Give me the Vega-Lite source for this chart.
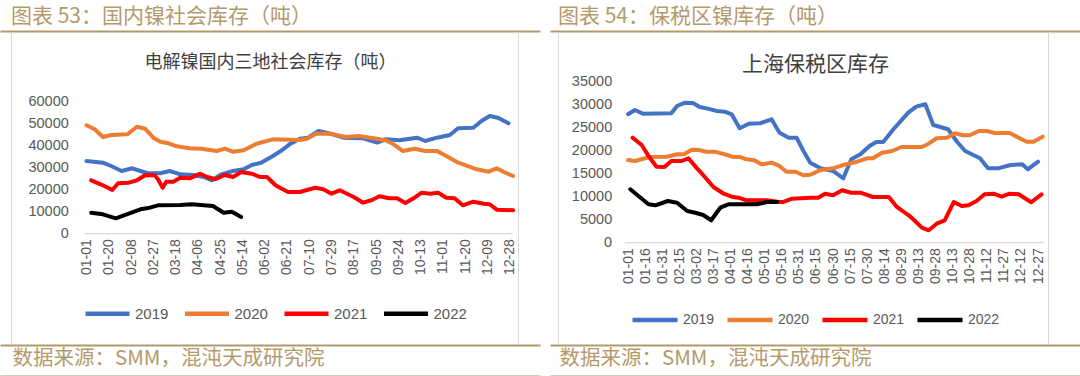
{
  "$schema": "https://vega.github.io/schema/vega-lite/v6.json",
  "padding": {"top": 6, "left": 0, "right": 0, "bottom": 0},
  "background": "white",
  "spacing": 10,
  "resolve": {"scale": {"color": "independent"}, "legend": {"color": "independent"}},
  "config": {"view": {"stroke": null}, "axis": {"grid": false}, "font": "Liberation Sans"},
  "datasets": {
    "left": [
      {"year":"2019","day":0,"value":32930},{"year":"2019","day":14,"value":32160},{"year":"2019","day":21,"value":30660},{"year":"2019","day":30,"value":28400},{"year":"2019","day":39,"value":29620},{"year":"2019","day":46,"value":28400},{"year":"2019","day":53,"value":27350},{"year":"2019","day":63,"value":27350},{"year":"2019","day":71,"value":28400},{"year":"2019","day":80,"value":26900},{"year":"2019","day":91,"value":26590},{"year":"2019","day":100,"value":25680},{"year":"2019","day":107,"value":24180},{"year":"2019","day":115,"value":26900},{"year":"2019","day":125,"value":28400},{"year":"2019","day":134,"value":29170},{"year":"2019","day":141,"value":31110},{"year":"2019","day":149,"value":32160},{"year":"2019","day":159,"value":35190},{"year":"2019","day":167,"value":37900},{"year":"2019","day":174,"value":40760},{"year":"2019","day":182,"value":43000},{"year":"2019","day":189,"value":43480},{"year":"2019","day":198,"value":46510},{"year":"2019","day":208,"value":45290},{"year":"2019","day":219,"value":43480},{"year":"2019","day":236,"value":43210},{"year":"2019","day":248,"value":41210},{"year":"2019","day":255,"value":42750},{"year":"2019","day":267,"value":42300},{"year":"2019","day":282,"value":43480},{"year":"2019","day":289,"value":41980},{"year":"2019","day":299,"value":43480},{"year":"2019","day":310,"value":44700},{"year":"2019","day":317,"value":47730},{"year":"2019","day":330,"value":48010},{"year":"2019","day":337,"value":51040},{"year":"2019","day":344,"value":53310},{"year":"2019","day":351,"value":52540},{"year":"2019","day":360,"value":50000},
      {"year":"2020","day":0,"value":49090},{"year":"2020","day":7,"value":47280},{"year":"2020","day":14,"value":43800},{"year":"2020","day":21,"value":44700},{"year":"2020","day":35,"value":45020},{"year":"2020","day":43,"value":48460},{"year":"2020","day":50,"value":47550},{"year":"2020","day":57,"value":43480},{"year":"2020","day":63,"value":41670},{"year":"2020","day":70,"value":40940},{"year":"2020","day":77,"value":39580},{"year":"2020","day":88,"value":38680},{"year":"2020","day":98,"value":38500},{"year":"2020","day":111,"value":37450},{"year":"2020","day":118,"value":38500},{"year":"2020","day":125,"value":37140},{"year":"2020","day":134,"value":37770},{"year":"2020","day":145,"value":40760},{"year":"2020","day":159,"value":42750},{"year":"2020","day":182,"value":42440},{"year":"2020","day":188,"value":43030},{"year":"2020","day":196,"value":45290},{"year":"2020","day":208,"value":45290},{"year":"2020","day":221,"value":43800},{"year":"2020","day":232,"value":44250},{"year":"2020","day":245,"value":43210},{"year":"2020","day":255,"value":42300},{"year":"2020","day":262,"value":40490},{"year":"2020","day":270,"value":37450},{"year":"2020","day":280,"value":38500},{"year":"2020","day":289,"value":37450},{"year":"2020","day":299,"value":37450},{"year":"2020","day":307,"value":35190},{"year":"2020","day":316,"value":32470},{"year":"2020","day":323,"value":31110},{"year":"2020","day":333,"value":29170},{"year":"2020","day":343,"value":28080},{"year":"2020","day":350,"value":29620},{"year":"2020","day":356,"value":27940},{"year":"2020","day":364,"value":26130},
      {"year":"2021","day":4,"value":24180},{"year":"2021","day":14,"value":21920},{"year":"2021","day":22,"value":19790},{"year":"2021","day":27,"value":22830},{"year":"2021","day":36,"value":23100},{"year":"2021","day":43,"value":24180},{"year":"2021","day":50,"value":26450},{"year":"2021","day":58,"value":26450},{"year":"2021","day":61,"value":24640},{"year":"2021","day":65,"value":20830},{"year":"2021","day":68,"value":23550},{"year":"2021","day":74,"value":23550},{"year":"2021","day":80,"value":25360},{"year":"2021","day":88,"value":25090},{"year":"2021","day":97,"value":27170},{"year":"2021","day":103,"value":25680},{"year":"2021","day":110,"value":24640},{"year":"2021","day":118,"value":26590},{"year":"2021","day":125,"value":25680},{"year":"2021","day":132,"value":27940},{"year":"2021","day":141,"value":27170},{"year":"2021","day":148,"value":25680},{"year":"2021","day":154,"value":25680},{"year":"2021","day":161,"value":22060},{"year":"2021","day":165,"value":20830},{"year":"2021","day":172,"value":18890},{"year":"2021","day":182,"value":18900},{"year":"2021","day":195,"value":20830},{"year":"2021","day":202,"value":20110},{"year":"2021","day":209,"value":18120},{"year":"2021","day":216,"value":19660},{"year":"2021","day":228,"value":16620},{"year":"2021","day":236,"value":14040},{"year":"2021","day":243,"value":15130},{"year":"2021","day":250,"value":16940},{"year":"2021","day":258,"value":16030},{"year":"2021","day":265,"value":16030},{"year":"2021","day":272,"value":13900},{"year":"2021","day":279,"value":16030},{"year":"2021","day":286,"value":18570},{"year":"2021","day":293,"value":18120},{"year":"2021","day":300,"value":18570},{"year":"2021","day":307,"value":16300},{"year":"2021","day":314,"value":16030},{"year":"2021","day":321,"value":12860},{"year":"2021","day":330,"value":14490},{"year":"2021","day":339,"value":13590},{"year":"2021","day":344,"value":13320},{"year":"2021","day":350,"value":10870},{"year":"2021","day":364,"value":10600},
      {"year":"2022","day":4,"value":9510},{"year":"2022","day":14,"value":8790},{"year":"2022","day":25,"value":6970},{"year":"2022","day":36,"value":9060},{"year":"2022","day":46,"value":11050},{"year":"2022","day":54,"value":11780},{"year":"2022","day":61,"value":12860},{"year":"2022","day":80,"value":13000},{"year":"2022","day":90,"value":13320},{"year":"2022","day":100,"value":12860},{"year":"2022","day":108,"value":12550},{"year":"2022","day":111,"value":11500},{"year":"2022","day":117,"value":9510},{"year":"2022","day":124,"value":9960},{"year":"2022","day":132,"value":7560}
    ],
    "right": [
      {"year":"2019","day":0,"value":27970},{"year":"2019","day":6,"value":28900},{"year":"2019","day":13,"value":28100},{"year":"2019","day":38,"value":28180},{"year":"2019","day":43,"value":29770},{"year":"2019","day":50,"value":30490},{"year":"2019","day":57,"value":30430},{"year":"2019","day":63,"value":29560},{"year":"2019","day":70,"value":29190},{"year":"2019","day":78,"value":28680},{"year":"2019","day":85,"value":28530},{"year":"2019","day":91,"value":27970},{"year":"2019","day":98,"value":24920},{"year":"2019","day":106,"value":25920},{"year":"2019","day":116,"value":26010},{"year":"2019","day":126,"value":26880},{"year":"2019","day":133,"value":23960},{"year":"2019","day":141,"value":22870},{"year":"2019","day":148,"value":22870},{"year":"2019","day":154,"value":19970},{"year":"2019","day":160,"value":17420},{"year":"2019","day":169,"value":16200},{"year":"2019","day":180,"value":15620},{"year":"2019","day":189,"value":14030},{"year":"2019","day":196,"value":18160},{"year":"2019","day":204,"value":19250},{"year":"2019","day":212,"value":21060},{"year":"2019","day":218,"value":21930},{"year":"2019","day":224,"value":21930},{"year":"2019","day":233,"value":24700},{"year":"2019","day":246,"value":28310},{"year":"2019","day":253,"value":29620},{"year":"2019","day":261,"value":30140},{"year":"2019","day":268,"value":25640},{"year":"2019","day":281,"value":24700},{"year":"2019","day":289,"value":21930},{"year":"2019","day":296,"value":19970},{"year":"2019","day":309,"value":18380},{"year":"2019","day":316,"value":16200},{"year":"2019","day":325,"value":16200},{"year":"2019","day":335,"value":16860},{"year":"2019","day":346,"value":17080},{"year":"2019","day":351,"value":15990},{"year":"2019","day":360,"value":17640},
      {"year":"2020","day":0,"value":18010},{"year":"2020","day":6,"value":17790},{"year":"2020","day":19,"value":18670},{"year":"2020","day":34,"value":18730},{"year":"2020","day":43,"value":19250},{"year":"2020","day":49,"value":19250},{"year":"2020","day":56,"value":20260},{"year":"2020","day":62,"value":20190},{"year":"2020","day":69,"value":19820},{"year":"2020","day":76,"value":19820},{"year":"2020","day":87,"value":19100},{"year":"2020","day":92,"value":18670},{"year":"2020","day":98,"value":18670},{"year":"2020","day":104,"value":18160},{"year":"2020","day":111,"value":17950},{"year":"2020","day":117,"value":17080},{"year":"2020","day":126,"value":17420},{"year":"2020","day":133,"value":16710},{"year":"2020","day":139,"value":15460},{"year":"2020","day":147,"value":15460},{"year":"2020","day":154,"value":14680},{"year":"2020","day":160,"value":14800},{"year":"2020","day":169,"value":15830},{"year":"2020","day":180,"value":16200},{"year":"2020","day":189,"value":16920},{"year":"2020","day":201,"value":17640},{"year":"2020","day":210,"value":18380},{"year":"2020","day":215,"value":18380},{"year":"2020","day":223,"value":19600},{"year":"2020","day":232,"value":19970},{"year":"2020","day":240,"value":20840},{"year":"2020","day":258,"value":20840},{"year":"2020","day":264,"value":21560},{"year":"2020","day":271,"value":22740},{"year":"2020","day":280,"value":22870},{"year":"2020","day":287,"value":23830},{"year":"2020","day":294,"value":23390},{"year":"2020","day":300,"value":23390},{"year":"2020","day":308,"value":24330},{"year":"2020","day":315,"value":24330},{"year":"2020","day":322,"value":23890},{"year":"2020","day":335,"value":23890},{"year":"2020","day":343,"value":22870},{"year":"2020","day":350,"value":22000},{"year":"2020","day":356,"value":22000},{"year":"2020","day":364,"value":23090},
      {"year":"2021","day":4,"value":22870},{"year":"2021","day":12,"value":21280},{"year":"2021","day":18,"value":18880},{"year":"2021","day":25,"value":16550},{"year":"2021","day":32,"value":16490},{"year":"2021","day":38,"value":17790},{"year":"2021","day":47,"value":17790},{"year":"2021","day":53,"value":18380},{"year":"2021","day":60,"value":16340},{"year":"2021","day":68,"value":14160},{"year":"2021","day":75,"value":12130},{"year":"2021","day":84,"value":10670},{"year":"2021","day":91,"value":10020},{"year":"2021","day":97,"value":9800},{"year":"2021","day":104,"value":9230},{"year":"2021","day":122,"value":9230},{"year":"2021","day":131,"value":8930},{"year":"2021","day":136,"value":8860},{"year":"2021","day":144,"value":9580},{"year":"2021","day":160,"value":9800},{"year":"2021","day":167,"value":9800},{"year":"2021","day":173,"value":10670},{"year":"2021","day":180,"value":10320},{"year":"2021","day":188,"value":11410},{"year":"2021","day":196,"value":10890},{"year":"2021","day":204,"value":10890},{"year":"2021","day":215,"value":9950},{"year":"2021","day":229,"value":9950},{"year":"2021","day":236,"value":7780},{"year":"2021","day":248,"value":5660},{"year":"2021","day":258,"value":3270},{"year":"2021","day":264,"value":2700},{"year":"2021","day":271,"value":4140},{"year":"2021","day":278,"value":4880},{"year":"2021","day":286,"value":8860},{"year":"2021","day":293,"value":7990},{"year":"2021","day":299,"value":8150},{"year":"2021","day":306,"value":9080},{"year":"2021","day":313,"value":10540},{"year":"2021","day":321,"value":10670},{"year":"2021","day":328,"value":10020},{"year":"2021","day":335,"value":10670},{"year":"2021","day":343,"value":10540},{"year":"2021","day":354,"value":8800},{"year":"2021","day":363,"value":10540},
      {"year":"2022","day":2,"value":11630},{"year":"2022","day":11,"value":9800},{"year":"2022","day":18,"value":8360},{"year":"2022","day":24,"value":8150},{"year":"2022","day":35,"value":9080},{"year":"2022","day":43,"value":8710},{"year":"2022","day":52,"value":6900},{"year":"2022","day":59,"value":6530},{"year":"2022","day":66,"value":6030},{"year":"2022","day":73,"value":4880},{"year":"2022","day":81,"value":7620},{"year":"2022","day":88,"value":8360},{"year":"2022","day":113,"value":8360},{"year":"2022","day":122,"value":8860},{"year":"2022","day":131,"value":8860}
    ]
  },
  "hconcat": [
    {
      "width": 540,
      "height": 312,
      "title": {"text": "图表 53：国内镍社会库存（吨）", "anchor": "start", "frame": "group", "dx": 11, "offset": 4, "fontSize": 21, "font": "Noto Sans CJK SC", "fontWeight": "normal", "color": "#B49A6B"},
      "resolve": {"axis": {"x": "independent", "y": "independent"}},
      "layer": [
        {
          "data": {"name": "left"},
          "mark": {"type": "line", "strokeWidth": 4, "strokeCap": "round", "strokeJoin": "round"},
          "encoding": {
            "x": {"field": "day", "type": "quantitative",
              "scale": {"domain": [-73.8, 386.9], "nice": false, "zero": false},
              "axis": {"orient": "bottom", "offset": -110.3, "values": [0,19,38,57,76,95,114,133,152,171,190,209,228,247,266,285,304,323,342,361],
                "labelExpr": "timeFormat(datetime(2021, 0, 1 + datum.value), '%m-%d')",
                "labelAngle": -90, "labelFontSize": 14, "labelColor": "#595959", "labelFont": "Liberation Sans", "labelPadding": 5,
                "labelOverlap": false, "labelFlush": false, "labelBound": false,
                "domain": false, "ticks": false, "grid": false, "title": null}},
            "y": {"field": "value", "type": "quantitative",
              "scale": {"domain": [-49955, 91349], "nice": false, "zero": false},
              "axis": {"orient": "left", "offset": -72.3, "values": [0,10000,20000,30000,40000,50000,60000], "format": "d",
                "labelFontSize": 14.5, "labelColor": "#595959", "labelFont": "Liberation Sans", "labelPadding": 4,
                "labelOverlap": false, "labelFlush": false, "labelBound": false,
                "domain": false, "ticks": false, "grid": false, "title": null}},
            "color": {"field": "year", "type": "nominal",
              "scale": {"domain": ["2019","2020","2021","2022"], "range": ["#4472C4","#ED7D31","#FF0000","#000000"]},
              "legend": {"orient": "none", "legendX": 83, "legendY": 257, "direction": "horizontal", "title": null,
                "symbolType": "stroke", "symbolSize": 1936, "symbolStrokeWidth": 4.5,
                "labelFontSize": 15, "labelColor": "#595959", "labelFont": "Liberation Sans", "labelOffset": 3, "columnPadding": 6.5}}
          }
        },
        {
          "data": {"values": [{}]},
          "mark": {"type": "rule", "color": "#D9D9D9", "strokeWidth": 1.3},
          "encoding": {
            "x": {"datum": -1.9, "type": "quantitative",
              "axis": {"orient": "top", "offset": 1, "domain": true, "domainColor": "#B49A6B", "domainWidth": 2,
                "labels": false, "ticks": false, "grid": false, "minExtent": 0, "maxExtent": 0,
                "title": "电解镍国内三地社会库存（吨）", "titleFont": "Noto Sans CJK SC", "titleFontSize": 18, "titleFontWeight": "normal",
                "titleColor": "#404040", "titleAnchor": "middle", "titlePadding": -40.5}},
            "x2": {"datum": 363.7},
            "y": {"datum": 0, "type": "quantitative",
              "axis": {"orient": "left", "offset": -11, "domain": true, "domainColor": "#D9D9D9", "domainWidth": 1,
                "labels": false, "ticks": false, "grid": false, "title": null, "minExtent": 0, "maxExtent": 0}}
          }
        },
        {
          "data": {"values": [{}]},
          "mark": {"type": "rule", "strokeOpacity": 0},
          "encoding": {
            "x": {"datum": -1.9, "type": "quantitative",
              "axis": {"orient": "bottom", "offset": 1, "domain": true, "domainColor": "#B49A6B", "domainWidth": 2,
                "labels": false, "ticks": false, "grid": false, "minExtent": 0, "maxExtent": 0,
                "title": "数据来源：SMM，混沌天成研究院", "titleFont": "Noto Sans CJK SC", "titleFontSize": 20.5, "titleFontWeight": "normal",
                "titleColor": "#B49A6B", "titleAnchor": "start", "titleAlign": "left", "titleX": 12, "titlePadding": 3}},
            "x2": {"datum": 363.7},
            "y": {"datum": 0, "type": "quantitative",
              "axis": {"orient": "right", "offset": -22, "domain": true, "domainColor": "#D9D9D9", "domainWidth": 1,
                "labels": false, "ticks": false, "grid": false, "title": null, "minExtent": 0, "maxExtent": 0}}
          }
        },
        {
          "data": {"values": [{}]},
          "mark": {"type": "rule", "strokeOpacity": 0},
          "encoding": {
            "x": {"datum": -1.9, "type": "quantitative",
              "axis": {"orient": "bottom", "offset": 32, "domain": true, "domainColor": "#B49A6B", "domainWidth": 2,
                "labels": false, "ticks": false, "grid": false, "minExtent": 0, "maxExtent": 0, "title": null}},
            "x2": {"datum": 363.7},
            "y": {"datum": 0, "type": "quantitative", "axis": null}
          }
        }
      ]
    },
    {
      "width": 530,
      "height": 312,
      "title": {"text": "图表 54：保税区镍库存（吨）", "anchor": "start", "frame": "group", "dx": 8, "offset": 4, "fontSize": 21, "font": "Noto Sans CJK SC", "fontWeight": "normal", "color": "#B49A6B"},
      "resolve": {"axis": {"x": "independent", "y": "independent"}},
      "layer": [
        {
          "data": {"name": "right"},
          "mark": {"type": "line", "strokeWidth": 4, "strokeCap": "round", "strokeJoin": "round"},
          "encoding": {
            "x": {"field": "day", "type": "quantitative",
              "scale": {"domain": [-68.5, 396.8], "nice": false, "zero": false},
              "axis": {"orient": "bottom", "offset": -101.3, "values": [0,15,30,45,60,75,90,105,120,135,150,165,180,195,210,225,240,255,270,285,300,315,330,345,360],
                "labelExpr": "timeFormat(datetime(2021, 0, 1 + datum.value), '%m-%d')",
                "labelAngle": -90, "labelFontSize": 14, "labelColor": "#595959", "labelFont": "Liberation Sans", "labelPadding": 5,
                "labelOverlap": false, "labelFlush": false, "labelBound": false,
                "domain": false, "ticks": false, "grid": false, "title": null}},
            "y": {"field": "value", "type": "quantitative",
              "scale": {"domain": [-22060, 45884], "nice": false, "zero": false},
              "axis": {"orient": "left", "offset": -65.7, "values": [0,5000,10000,15000,20000,25000,30000,35000], "format": "d",
                "labelFontSize": 14.5, "labelColor": "#595959", "labelFont": "Liberation Sans", "labelPadding": 4,
                "labelOverlap": false, "labelFlush": false, "labelBound": false,
                "domain": false, "ticks": false, "grid": false, "title": null}},
            "color": {"field": "year", "type": "nominal",
              "scale": {"domain": ["2019","2020","2021","2022"], "range": ["#4472C4","#ED7D31","#FF0000","#000000"]},
              "legend": {"orient": "none", "legendX": 80, "legendY": 263, "direction": "horizontal", "title": null,
                "symbolType": "stroke", "symbolSize": 2025, "symbolStrokeWidth": 4.5,
                "labelFontSize": 14, "labelColor": "#595959", "labelFont": "Liberation Sans", "labelOffset": 3, "columnPadding": 3}}
          }
        },
        {
          "data": {"values": [{}]},
          "mark": {"type": "rule", "color": "#D9D9D9", "strokeWidth": 1.3},
          "encoding": {
            "x": {"datum": -2.6, "type": "quantitative",
              "axis": {"orient": "top", "offset": 1, "domain": true, "domainColor": "#B49A6B", "domainWidth": 2,
                "labels": false, "ticks": false, "grid": false, "minExtent": 0, "maxExtent": 0,
                "title": "上海保税区库存", "titleFont": "Noto Sans CJK SC", "titleFontSize": 21, "titleFontWeight": "normal",
                "titleColor": "#404040", "titleAnchor": "middle", "titlePadding": -43.5}},
            "x2": {"datum": 365},
            "y": {"datum": 0, "type": "quantitative",
              "axis": {"orient": "left", "offset": -8, "domain": true, "domainColor": "#D9D9D9", "domainWidth": 1,
                "labels": false, "ticks": false, "grid": false, "title": null, "minExtent": 0, "maxExtent": 0}}
          }
        },
        {
          "data": {"values": [{}]},
          "mark": {"type": "rule", "strokeOpacity": 0},
          "encoding": {
            "x": {"datum": -2.6, "type": "quantitative",
              "axis": {"orient": "bottom", "offset": 1, "domain": true, "domainColor": "#B49A6B", "domainWidth": 2,
                "labels": false, "ticks": false, "grid": false, "minExtent": 0, "maxExtent": 0,
                "title": "数据来源：SMM，混沌天成研究院", "titleFont": "Noto Sans CJK SC", "titleFontSize": 20.5, "titleFontWeight": "normal",
                "titleColor": "#B49A6B", "titleAnchor": "start", "titleAlign": "left", "titleX": 9, "titlePadding": 3}},
            "x2": {"datum": 365},
            "y": {"datum": 0, "type": "quantitative",
              "axis": {"orient": "right", "offset": -32, "domain": true, "domainColor": "#D9D9D9", "domainWidth": 1,
                "labels": false, "ticks": false, "grid": false, "title": null, "minExtent": 0, "maxExtent": 0}}
          }
        },
        {
          "data": {"values": [{}]},
          "mark": {"type": "rule", "strokeOpacity": 0},
          "encoding": {
            "x": {"datum": -2.6, "type": "quantitative",
              "axis": {"orient": "bottom", "offset": 32, "domain": true, "domainColor": "#B49A6B", "domainWidth": 2,
                "labels": false, "ticks": false, "grid": false, "minExtent": 0, "maxExtent": 0, "title": null}},
            "x2": {"datum": 365},
            "y": {"datum": 0, "type": "quantitative", "axis": null}
          }
        }
      ]
    }
  ]
}
